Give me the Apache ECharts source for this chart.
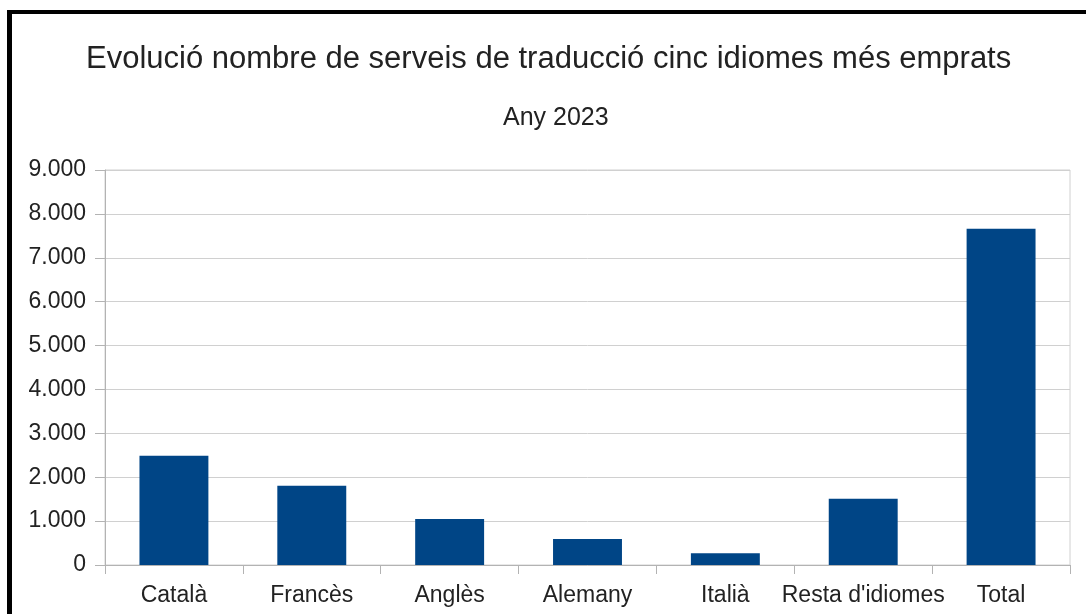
<!DOCTYPE html>
<html>
<head>
<meta charset="utf-8">
<script src="https://cdn.jsdelivr.net/npm/echarts@6/dist/echarts.min.js"></script>
<style>
    html, body { margin: 0; padding: 0; background: #fff; }
    #chart { width: 1086px; height: 614px; }
</style>
</head>
<body>
<div id="chart"></div>
<script>
    var categories = ['Català', 'Francès', 'Anglès', 'Alemany', 'Italià', "Resta d'idiomes", 'Total'];
    var serveis = [2490, 1805, 1050, 590, 265, 1510, 7660];
    var yTicks = [0, 1000, 2000, 3000, 4000, 5000, 6000, 7000, 8000, 9000];

    var chart = echarts.init(document.getElementById('chart'));

    // format amb punt de milers
    function milers(v) {
        return String(v).replace(/\B(?=(\d{3})+(?!\d))/g, '.');
    }

    var option = {
        backgroundColor: '#fff',
        animation: false,
        textStyle: { fontFamily: 'Liberation Sans' },
        title: [{
            text: 'Evolució nombre de serveis de traducció cinc idiomes més emprats',
            left: 81,
            top: 39,
            padding: 5,
            textStyle: { fontSize: 31, fontWeight: 'normal', color: '#222', fontFamily: 'Liberation Sans' }
        }, {
            text: 'Any 2023',
            left: 498,
            top: 101,
            padding: 5,
            textStyle: { fontSize: 25, fontWeight: 'normal', color: '#222', fontFamily: 'Liberation Sans' }
        }],
        grid: {
            left: 105,
            right: 16,
            top: 170,
            bottom: 49,
            show: true,
            borderColor: '#d0d0d0',
            borderWidth: 1
        },
        xAxis: {
            type: 'category',
            data: categories,
            axisLine: { lineStyle: { color: '#b3b3b3' } },
            axisTick: { show: true, length: 9, lineStyle: { color: '#b3b3b3' } },
            axisLabel: { color: '#222', fontSize: 23, margin: 19, interval: 0 }
        },
        yAxis: {
            type: 'value',
            min: yTicks[0],
            max: yTicks[yTicks.length - 1],
            interval: 1000,
            axisLine: { show: true, lineStyle: { color: '#b3b3b3' } },
            axisTick: { show: true, length: 10, lineStyle: { color: '#b3b3b3' } },
            axisLabel: { color: '#222', fontSize: 23, margin: 19, formatter: milers },
            splitLine: { lineStyle: { color: '#d0d0d0' } }
        },
        series: [{
            type: 'bar',
            data: serveis,
            barWidth: '50%',
            itemStyle: { color: '#004586' }
        }]
    };

    chart.setOption(option);
</script>
<div style="position:absolute;left:7px;top:10px;width:1079px;height:604px;border-left:5px solid #000;border-top:4px solid #000;box-sizing:border-box;pointer-events:none;"></div>
</body>
</html>
